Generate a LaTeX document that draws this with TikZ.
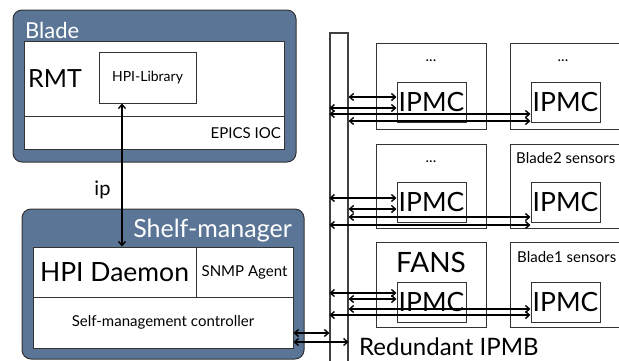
\documentclass[tikz,border=0pt]{standalone}
\usepackage{fontspec}
\setmainfont{Lato}
\usetikzlibrary{arrows.meta}
\definecolor{slate}{HTML}{5B7597}
\tikzset{
	shell/.style 2 args={rectangle,rounded corners=9pt,fill=slate,draw=black!80,line width=1pt,minimum width=#1,minimum height=#2,inner sep=0pt},
	cell/.style 2 args={rectangle,draw=black!80,fill=white,line width=1pt,minimum width=#1,minimum height=#2,inner sep=0pt},
	rail/.style={rectangle,draw=black!75,line width=1.2pt,minimum width=18,minimum height=347,inner sep=0pt},
	both/.style={{Straight Barb[length=4pt,width=7pt]}-{Straight Barb[length=4pt,width=7pt]},line width=1.4pt},
	big/.style={font=\fontsize{26.5}{28}\selectfont},
	small/.style={font=\fontsize{15}{17}\selectfont}
}
\begin{document}
\begin{tikzpicture}[x=1pt,y=-1pt]
	\useasboundingbox (0,0) rectangle (619,360);
	
	\node [shell={283}{152}] (blade) at (154.5,86) {};
	\node [cell={260}{75}] (rmtbox) at (154,78.5) {};
	\node [cell={260}{33}] (epics) at (154,132.5) {};
	\node [cell={97}{51},small,font=\fontsize{14}{16}\selectfont] (hpilib) at (147.5,77.5) {HPI-Library};
	\node [anchor=base west,white,font=\fontsize{22}{24}\selectfont,inner sep=0pt] (bladetitle) at (25,38) {Blade};
	\node [anchor=west,font=\fontsize{25}{27}\selectfont,inner sep=0pt] (rmt) at (28,79) {RMT};
	\node [anchor=east,small,inner sep=0pt] (epicstext) at (281,133) {EPICS IOC};
	
	\node [shell={282}{150}] (shelf) at (163,284) {};
	\node [cell={163}{50},font=\fontsize{26.5}{28}\selectfont] (daemon) at (114.5,272) {HPI Daemon};
	\node [cell={97}{50},small] (snmp) at (244.5,272) {SNMP Agent};
	\node [cell={260}{51},small] (smc) at (163,322.5) {Self-management controller};
	\node [anchor=base east,white,font=\fontsize{25}{27}\selectfont,inner sep=0pt] (shelftitle) at (292,237) {Shelf-manager};
	
	\draw [both] (hpilib.south -| 122,0) -- (daemon.north -| 122,0);
	\node [anchor=base,font=\fontsize{20}{22}\selectfont,inner sep=0pt] (ip) at (102.5,195) {ip};
	
	\node [rail] (bus) at (339,206.5) {};
	
	\node [cell={110}{86}] (s11) at (431,86) {};
	\node [cell={140}{86}] (s21) at (580,86) {};
	\node [cell={110}{84}] (s12) at (431,186) {};
	\node [cell={140}{84}] (s22) at (580,186) {};
	\node [cell={110}{85}] (s13) at (431,284.5) {};
	\node [cell={140}{85}] (s23) at (580,284.5) {};
	
	\node [small] (d11) at (431,61) {...};
	\node [small] (d21) at (563,61) {...};
	\node [small] (d12) at (431,162) {...};
	\node [anchor=west,small,inner sep=0pt] (b2) at (516,158) {Blade2 sensors};
	\node [anchor=west,small,inner sep=0pt] (b1) at (517,257) {Blade1 sensors};
	\node [big,font=\fontsize{28}{30}\selectfont] (fans) at (431,262) {FANS};
	
	\node [cell={69}{40},big] (p11) at (431.5,102) {IPMC};
	\node [cell={69}{40},big] (p21) at (565.5,102) {IPMC};
	\node [cell={69}{40},big] (p12) at (431.5,202) {IPMC};
	\node [cell={69}{40},big] (p22) at (565.5,202) {IPMC};
	\node [cell={69}{40},big] (p13) at (431.5,302) {IPMC};
	\node [cell={69}{40},big] (p23) at (565.5,302) {IPMC};
	
	\draw [both] (bus.east |- 0,97) -- (p11.west |- 0,97);
	\draw [both] (bus.west |- 0,108) -- (p11.west |- 0,108);
	\draw [both] (bus.west |- 0,114) -- (p21.west |- 0,114);
	\draw [both] (bus.east |- 0,121) -- (p21.west |- 0,121);
	
	\draw [both] (bus.west |- 0,198) -- (p12.west |- 0,198);
	\draw [both] (bus.east |- 0,209) -- (p12.west |- 0,209);
	\draw [both] (bus.east |- 0,217) -- (p22.west |- 0,217);
	\draw [both] (bus.west |- 0,225) -- (p22.west |- 0,225);
	
	\draw [both] (bus.west |- 0,293) -- (p13.west |- 0,293);
	\draw [both] (bus.east |- 0,299) -- (p13.west |- 0,299);
	\draw [both] (bus.east |- 0,309) -- (p23.west |- 0,309);
	\draw [both] (bus.west |- 0,315) -- (p23.west |- 0,315);
	
	\draw [both] (smc.east |- 0,333) -- (bus.west |- 0,333);
	\draw [both] (smc.east |- 0,342) -- (bus.east |- 0,342);
	
	\node [anchor=base west,font=\fontsize{24}{26}\selectfont,inner sep=0pt] (ipmb) at (359,355) {Redundant IPMB};
\end{tikzpicture}
\end{document}
